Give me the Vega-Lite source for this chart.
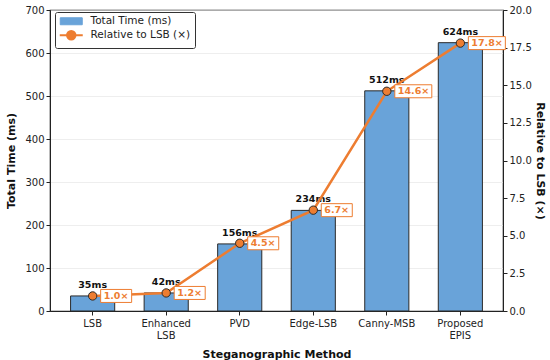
{
  "$schema": "https://vega.github.io/schema/vega-lite/v6.json",
  "autosize": {"type": "none"},
  "padding": {"left": 50, "top": 10, "right": 47, "bottom": 49},
  "width": 453,
  "height": 301,
  "background": "white",
  "config": {
    "font": "DejaVu Sans",
    "view": {"stroke": "#222", "strokeWidth": 1.2},
    "axis": {"labelFont": "DejaVu Sans", "titleFont": "DejaVu Sans", "labelFontSize": 10, "labelColor": "#222", "titleFontSize": 11, "titleFontWeight": "bold", "titleColor": "#111", "domainColor": "#222", "tickColor": "#222", "tickSize": 4},
    "legend": {
      "title": null, "orient": "none", "legendX": 5, "legendY": 2,
      "padding": 4, "strokeColor": "#333", "fillColor": "white", "cornerRadius": 2,
      "labelFontSize": 10, "labelColor": "#222", "labelFont": "DejaVu Sans", "symbolSize": 100, "rowPadding": 0, "symbolOffset": 7, "labelOffset": 14
    }
  },
  "data": {"values": [
    {"method": "LSB", "time": 35, "ratio": 1.0, "tlabel": "35ms", "rlabel": "1.0×"},
    {"method": "Enhanced LSB", "time": 42, "ratio": 1.2, "tlabel": "42ms", "rlabel": "1.2×"},
    {"method": "PVD", "time": 156, "ratio": 4.5, "tlabel": "156ms", "rlabel": "4.5×"},
    {"method": "Edge-LSB", "time": 234, "ratio": 6.7, "tlabel": "234ms", "rlabel": "6.7×"},
    {"method": "Canny-MSB", "time": 512, "ratio": 14.6, "tlabel": "512ms", "rlabel": "14.6×"},
    {"method": "Proposed EPIS", "time": 624, "ratio": 17.8, "tlabel": "624ms", "rlabel": "17.8×"}
  ]},
  "encoding": {
    "x": {"field": "method", "type": "nominal", "sort": null,
      "scale": {"paddingInner": 0.4, "paddingOuter": 0.28},
      "axis": {"title": "Steganographic Method", "labelAngle": 0, "labelExpr": "split(datum.label, ' ')", "labelPadding": 3, "titlePadding": 8, "grid": false}}
  },
  "layer": [
    {
      "encoding": {
        "y": {"field": "time", "type": "quantitative", "scale": {"domain": [0, 700], "nice": false},
          "axis": {"title": "Total Time (ms)", "values": [0,100,200,300,400,500,600,700], "grid": true, "gridColor": "#e6e6e6", "gridWidth": 0.7, "titlePadding": 8}}
      },
      "layer": [
        {
          "mark": {"type": "bar", "stroke": "#2a2a2a", "strokeWidth": 1},
          "encoding": {
            "color": {"datum": "Total Time (ms)", "type": "nominal",
              "scale": {"domain": ["Total Time (ms)", "Relative to LSB (×)"], "range": ["#69A3D9", "#ED7D31"]},
              "legend": {
                "labelFontSize": 10.5,
                "encode": {
                  "labels": {"update": {"fontSize": {"value": 10.5}}},
                  "symbols": {"update": {
                  "shape": {"signal": "datum.value == 'Total Time (ms)' ? 'M-2.2,-0.7H2.2V0.7H-2.2Z' : 'M-2.3,0H-0.85M0.85,0H2.3M0.85,0A0.85,0.85,0,1,1,-0.85,0A0.85,0.85,0,1,1,0.85,0'"},
                  "fill": {"signal": "datum.value == 'Total Time (ms)' ? '#69A3D9' : '#ED7D31'"},
                  "stroke": {"signal": "datum.value == 'Total Time (ms)' ? '#2a2a2a' : '#ED7D31'"},
                  "strokeWidth": {"signal": "datum.value == 'Total Time (ms)' ? 1 : 2"},
                  "opacity": {"value": 1}
                }}}
              }}
          }
        },
        {
          "mark": {"type": "text", "fontWeight": "bold", "fontSize": 9.5, "color": "#111", "baseline": "alphabetic", "dy": -8},
          "encoding": {"text": {"field": "tlabel"}}
        }
      ]
    },
    {
      "encoding": {
        "y": {"field": "ratio", "type": "quantitative", "scale": {"domain": [0, 20], "nice": false},
          "axis": {"title": "Relative to LSB (×)", "orient": "right", "values": [0, 2.5, 5, 7.5, 10, 12.5, 15, 17.5, 20], "format": ".1f", "grid": false, "titlePadding": 3}}
      },
      "layer": [
        {
          "mark": {"type": "line", "strokeWidth": 2.5},
          "encoding": {"color": {"datum": "Relative to LSB (×)", "type": "nominal",
            "legend": {
                "labelFontSize": 10.5,
                "encode": {
                  "labels": {"update": {"fontSize": {"value": 10.5}}},
                  "symbols": {"update": {
                  "shape": {"signal": "datum.value == 'Total Time (ms)' ? 'M-2.2,-0.7H2.2V0.7H-2.2Z' : 'M-2.3,0H-0.85M0.85,0H2.3M0.85,0A0.85,0.85,0,1,1,-0.85,0A0.85,0.85,0,1,1,0.85,0'"},
                  "fill": {"signal": "datum.value == 'Total Time (ms)' ? '#69A3D9' : '#ED7D31'"},
                  "stroke": {"signal": "datum.value == 'Total Time (ms)' ? '#2a2a2a' : '#ED7D31'"},
                  "strokeWidth": {"signal": "datum.value == 'Total Time (ms)' ? 1 : 2"},
                  "opacity": {"value": 1}
                }}}
              }}}
        },
        {
          "mark": {"type": "point", "filled": true, "fill": "#ED7D31", "stroke": "#2a2a2a", "strokeWidth": 1, "size": 70, "opacity": 1}
        },
        {
          "transform": [{"filter": "datum.ratio < 10"}],
          "mark": {"type": "point", "shape": "M-1.55,-0.65H1.55V0.65H-1.55Z", "size": 400, "filled": true, "fill": "white", "stroke": "#ED7D31", "strokeWidth": 1, "opacity": 1, "xOffset": 23.5}
        },
        {
          "transform": [{"filter": "datum.ratio >= 10"}],
          "mark": {"type": "point", "shape": "M-1.85,-0.65H1.85V0.65H-1.85Z", "size": 400, "filled": true, "fill": "white", "stroke": "#ED7D31", "strokeWidth": 1, "opacity": 1, "xOffset": 26.5}
        },
        {
          "mark": {"type": "text", "fontWeight": "bold", "fontSize": 9.5, "color": "#ED7D31", "align": "left", "baseline": "middle", "dx": 11},
          "encoding": {"text": {"field": "rlabel"}}
        }
      ]
    }
  ],
  "resolve": {"scale": {"y": "independent"}}
}
